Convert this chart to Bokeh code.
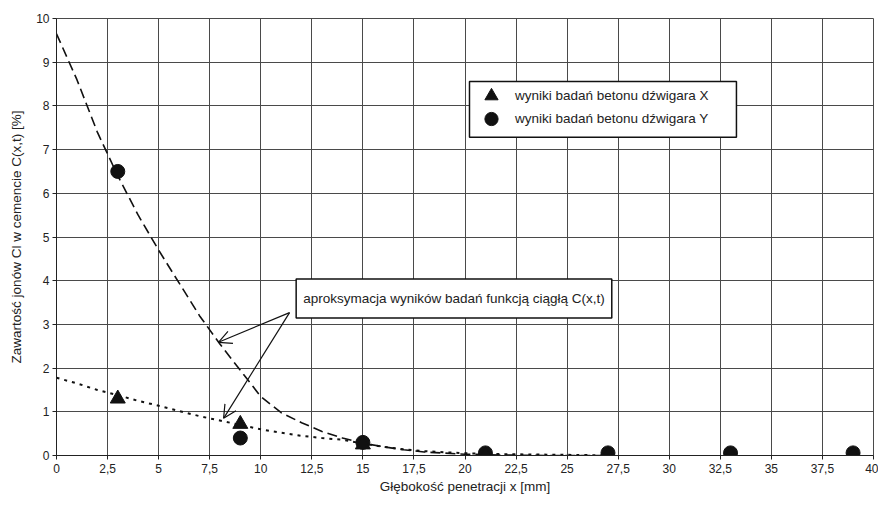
from bokeh.plotting import figure
from bokeh.models import (Range1d, FixedTicker, Legend, LegendItem, Label, Arrow, OpenHead,
                          ColumnDataSource, BoxAnnotation)
from bokeh.embed import file_html
from bokeh.resources import INLINE

# --- data -------------------------------------------------------------
depth = [3, 9, 15, 21, 27, 33, 39]
beam_x = [1.3, 0.72, 0.25, 0.0, 0.0, 0.0, 0.0]
beam_y = [6.5, 0.4, 0.3, 0.06, 0.06, 0.06, 0.06]

fit_depth = [0, 1, 2, 3, 4, 5, 6, 7, 8, 9, 10, 11, 12, 13, 14, 15, 16, 17, 18, 20, 22, 24, 26, 27]
fit_y = [9.65, 8.6, 7.4, 6.4, 5.5, 4.7, 3.95, 3.2, 2.55, 1.95, 1.35, 0.98, 0.75, 0.55, 0.4,
         0.28, 0.2, 0.13, 0.08, 0.03, 0.01, 0.0, 0.0, 0.0]
fit_x = [1.78, 1.65, 1.5, 1.38, 1.25, 1.14, 1.02, 0.9, 0.8, 0.7, 0.6, 0.52, 0.45, 0.4, 0.36,
         0.27, 0.2, 0.14, 0.1, 0.05, 0.03, 0.02, 0.01, 0.0]

x_ticks = [0, 2.5, 5, 7.5, 10, 12.5, 15, 17.5, 20, 22.5, 25, 27.5, 30, 32.5, 35, 37.5, 40]
y_ticks = [0, 1, 2, 3, 4, 5, 6, 7, 8, 9, 10]

legend_labels = ["wyniki badań betonu dźwigara X", "wyniki badań betonu dźwigara Y"]
note_text = "aproksymacja wyników badań funkcją ciągłą C(x,t)"
x_title = "Głębokość penetracji x [mm]"
y_title = "Zawartość jonów Cl w cemencie C(x,t) [%]"

FONT = "Liberation Sans"
GRID = "#4a4a4a"
INK = "#111111"
TXT = "#222222"

p = figure(width=878, height=503, output_backend="svg", toolbar_location=None,
           x_range=Range1d(0, 40), y_range=Range1d(0, 10),
           min_border_left=56, min_border_right=5, min_border_top=18, min_border_bottom=48)
p.background_fill_color = "white"
p.border_fill_color = "white"
p.outline_line_color = GRID
p.outline_line_width = 1

p.xaxis.ticker = FixedTicker(ticks=x_ticks)
p.yaxis.ticker = FixedTicker(ticks=y_ticks)
p.xaxis.major_label_overrides = {t: (str(t).replace(".", ",") if t != int(t) else str(int(t))) for t in x_ticks}
p.xaxis.axis_label = x_title
p.yaxis.axis_label = y_title
for ax in (p.xaxis, p.yaxis):
    ax.axis_line_color = TXT
    ax.axis_line_width = 1
    ax.major_tick_line_color = TXT
    ax.major_tick_out = 4
    ax.major_tick_in = 0
    ax.minor_tick_line_color = None
    ax.major_label_text_font = FONT
    ax.major_label_text_font_size = "12px"
    ax.major_label_text_color = TXT
    ax.axis_label_text_font = FONT
    ax.axis_label_text_font_size = "13.5px"
    ax.axis_label_text_font_style = "normal"
    ax.axis_label_text_color = TXT
p.xaxis.major_label_standoff = 4
p.xaxis.axis_label_standoff = 3
p.yaxis.major_label_standoff = 3
p.yaxis.axis_label_standoff = 9

p.grid.grid_line_color = GRID
p.grid.grid_line_width = 1
p.grid.grid_line_alpha = 1

# fitted curves
p.line(fit_depth, fit_y, line_color=INK, line_width=1.6, line_dash="10 5")
p.line(fit_depth, fit_x, line_color=INK, line_width=2, line_dash="3 5")

src = ColumnDataSource(dict(d=depth, bx=beam_x, by=beam_y))
r_cir = p.scatter("d", "by", source=src, marker="circle", size=14,
                  fill_color=INK, line_color=INK)
r_tri = p.scatter("d", "bx", source=src, marker="triangle", size=15,
                  fill_color=INK, line_color=INK)

# legend: framed box with two stacked entries
p.add_layout(BoxAnnotation(left=20.22, right=33.29, bottom=7.28, top=8.56,
                           fill_color="white", fill_alpha=1,
                           line_color=INK, line_width=1.5, line_alpha=1))
common = dict(padding=0, spacing=0, glyph_width=44, glyph_height=33, label_height=33,
              label_standoff=2, label_text_font=FONT, label_text_font_size="13.5px",
              label_text_color=TXT, border_line_color=None, background_fill_alpha=0, margin=0)
p.add_layout(Legend(items=[LegendItem(label=legend_labels[0], renderers=[r_tri])],
                    location=(413, 343), **common), "center")
p.add_layout(Legend(items=[LegendItem(label=legend_labels[1], renderers=[r_cir])],
                    location=(413, 320), **common), "center")

# annotation box with arrows
p.add_layout(Arrow(end=OpenHead(size=13, line_width=1.2, line_color=INK),
                   x_start=11.41, y_start=3.27, x_end=7.93, y_end=2.59,
                   line_width=1.2, line_color=INK))
p.add_layout(Arrow(end=OpenHead(size=13, line_width=1.2, line_color=INK),
                   x_start=11.41, y_start=3.27, x_end=8.18, y_end=0.85,
                   line_width=1.2, line_color=INK))
p.add_layout(Label(x=19.46, y=3.59, text=note_text, text_align="center", text_baseline="middle",
                   text_font=FONT, text_font_size="13.5px", text_color=TXT,
                   background_fill_color="white", background_fill_alpha=1,
                   border_line_color=INK, border_line_width=1.5, padding=(7, 12)))

open("out.html", "w").write(file_html(p, INLINE))
